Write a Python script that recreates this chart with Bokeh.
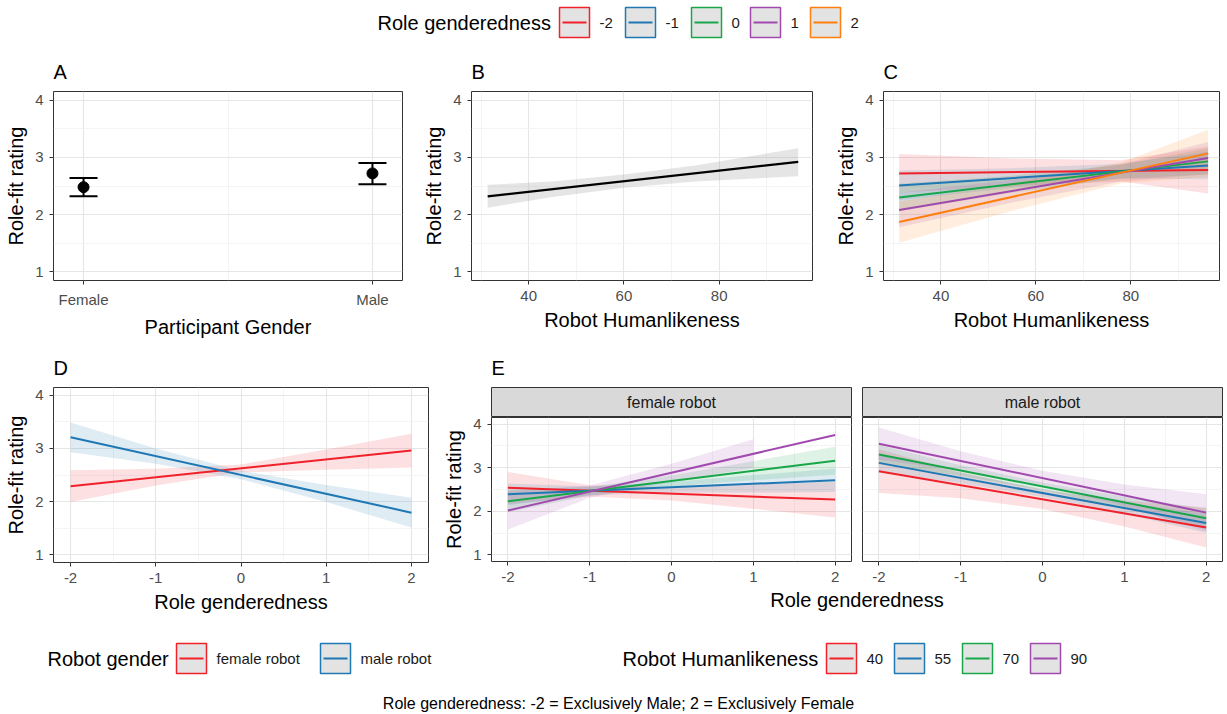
from bokeh.plotting import figure
from bokeh.layouts import column, row
from bokeh.models import Range1d, FixedTicker, ColumnDataSource, Whisker, TeeHead, Label
from bokeh.embed import file_html
from bokeh.resources import INLINE
from bokeh.core.properties import value

FONT = "Liberation Sans"

# ---------------- data ----------------
# Panel A
participant_gender = ["Female", "Male"]
pg_mean = [2.48, 2.72]
pg_lower = [2.32, 2.53]
pg_upper = [2.64, 2.90]

# Panel B
b_line_x = [31.4, 96.6]
b_line_y = [2.32, 2.92]
b_ci_x = [31.4, 45, 60, 75, 96.6]
b_ci_lower = [2.12, 2.31, 2.47, 2.58, 2.67]
b_ci_upper = [2.52, 2.58, 2.70, 2.86, 3.16]

# Panel C
role_levels = ["-2", "-1", "0", "1", "2"]
c_line_x = [31.2, 96.3]
c_line_start = [2.72, 2.51, 2.30, 2.08, 1.87]
c_line_end = [2.78, 2.86, 2.93, 2.99, 3.07]
c_ci_x = [31.2, 55, 78, 96.3]
c_ci_lower = [[2.38, 2.50, 2.58, 2.37], [2.25, 2.47, 2.63, 2.62], [2.06, 2.38, 2.63, 2.70],
              [1.78, 2.21, 2.58, 2.71], [1.51, 2.07, 2.55, 2.66]]
c_ci_upper = [[3.06, 2.98, 2.95, 3.19], [2.77, 2.81, 2.89, 3.10], [2.54, 2.68, 2.87, 3.16],
              [2.38, 2.61, 2.88, 3.27], [2.23, 2.55, 2.91, 3.48]]

# Panel D
robot_gender = ["female robot", "male robot"]
gend_x = [-2, -1, 0, 1, 2]
gend_labels = ["-2", "-1", "0", "1", "2"]
d_line_start = [2.29, 3.21]
d_line_end = [2.96, 1.79]
d_ci_lower = [[1.99, 2.30, 2.55, 2.60, 2.64], [2.93, 2.71, 2.42, 1.99, 1.51]]
d_ci_upper = [[2.59, 2.62, 2.70, 2.98, 3.28], [3.49, 3.00, 2.58, 2.31, 2.07]]

# Panel E
humanlikeness_levels = ["40", "55", "70", "90"]
e_f_start = [2.54, 2.39, 2.23, 2.02]
e_f_end = [2.27, 2.71, 3.16, 3.75]
e_f_lower = [[2.17, 2.34, 2.25, 2.06, 1.86], [2.14, 2.37, 2.43, 2.43, 2.44],
             [1.98, 2.36, 2.57, 2.71, 2.84], [1.58, 2.31, 2.68, 2.99]]
e_f_upper = [[2.90, 2.60, 2.56, 2.62, 2.68], [2.64, 2.57, 2.67, 2.83, 2.98],
             [2.48, 2.56, 2.82, 3.15, 3.48], [2.46, 2.59, 3.09, 3.65]]
e_m_start = [2.92, 3.11, 3.30, 3.55]
e_m_end = [1.63, 1.73, 1.84, 1.97]
e_m_lower = [[2.42, 2.30, 2.055, 1.65, 1.17], [2.89, 2.645, 2.33, 1.945, 1.51],
             [3.08, 2.815, 2.48, 2.075, 1.62], [3.18, 2.935, 2.59, 2.115, 1.55]]
e_m_upper = [[3.42, 2.90, 2.495, 2.25, 2.09], [3.33, 2.885, 2.51, 2.205, 1.95],
             [3.52, 3.055, 2.66, 2.335, 2.06], [3.92, 3.375, 2.93, 2.615, 2.39]]

y_ticks = [1, 2, 3, 4]
y_minor = [1.5, 2.5, 3.5]
hl_ticks = [40, 60, 80]
hl_minor = [30, 50, 70, 90]
gend_minor = [-1.5, -0.5, 0.5, 1.5]

ROLE_COLORS = ["#F0212A", "#1F78B4", "#18A64A", "#A04AAE", "#FF7F0E"]
HL_COLORS = ["#F0212A", "#1F78B4", "#18A64A", "#A04AAE"]
RG_COLORS = ["#F0212A", "#1F78B4"]
RIB_ALPHA = 0.14
TITLE_SIZE = "20px"
TICK_SIZE = "15px"


# ---------------- helpers ----------------
def style_axis(ax, label):
    if label:
        ax.axis_label = label
    ax.axis_label_text_font = FONT
    ax.axis_label_text_font_size = TITLE_SIZE
    ax.axis_label_text_font_style = "normal"
    ax.axis_label_text_color = "black"
    ax.axis_label_standoff = 5
    ax.major_label_text_font = FONT
    ax.major_label_text_font_size = TICK_SIZE
    ax.major_label_text_color = "#4D4D4D"
    ax.major_label_standoff = 6
    ax.axis_line_color = None
    ax.major_tick_line_color = "#333333"
    ax.major_tick_out = 4
    ax.major_tick_in = 0
    ax.minor_tick_line_color = None


def style_title(p):
    p.title.text_font = FONT
    p.title.text_font_size = "20px"
    p.title.text_font_style = "normal"
    p.title.text_color = "black"
    p.title.align = "left"
    p.title.offset = 0
    p.title.standoff = 17


def make_panel(width, height, xr, yr, borders, xticks, xminor, xlabel=None, ylabel=None,
               show_x=True, show_y=True, title=None, xtick_labels=None):
    bl, br, bt, bb = borders
    p = figure(width=width, height=height, x_range=Range1d(*xr), y_range=Range1d(*yr),
               output_backend="svg", toolbar_location=None, title=title,
               x_axis_location="below" if show_x else None,
               y_axis_location="left" if show_y else None,
               min_border_left=bl, min_border_right=br, min_border_top=bt, min_border_bottom=bb)
    p.outline_line_color = "#333333"
    p.outline_line_width = 1
    p.background_fill_color = "white"
    p.border_fill_color = "white"
    xt = FixedTicker(ticks=xticks, minor_ticks=xminor)
    yt = FixedTicker(ticks=y_ticks, minor_ticks=y_minor)
    p.xgrid.ticker = xt
    p.ygrid.ticker = yt
    p.grid.grid_line_color = "#E6E6E6"
    p.grid.grid_line_width = 1.1
    p.grid.minor_grid_line_color = "#F1F1F1"
    p.grid.minor_grid_line_width = 0.8
    if show_x:
        p.xaxis.ticker = xt
        style_axis(p.xaxis[0], xlabel)
        if xtick_labels:
            p.xaxis.major_label_overrides = {t: lab for t, lab in zip(xticks, xtick_labels)}
    if show_y:
        p.yaxis.ticker = yt
        style_axis(p.yaxis[0], ylabel)
    if title:
        style_title(p)
    return p


def blank_fig(width, height, title=None):
    p = figure(width=width, height=height, x_range=Range1d(0, width), y_range=Range1d(height, 0),
               output_backend="svg", toolbar_location=None, title=title,
               x_axis_location=None, y_axis_location=None,
               min_border_left=0, min_border_right=0, min_border_top=0, min_border_bottom=0)
    p.grid.visible = False
    p.outline_line_color = None
    p.background_fill_color = "white"
    p.border_fill_color = "white"
    return p


def draw_legend(p, title, title_x, key_lefts, yc, colors, labels, size=30):
    n = len(labels)
    p.text(x=[title_x], y=[yc], text=[title], text_font=value(FONT), text_font_size=TITLE_SIZE,
           text_baseline="middle", text_align="left", text_color="black")
    p.rect(x=[k + size / 2 for k in key_lefts], y=[yc] * n, width=size, height=size,
           fill_color="#E3E3E3", line_color=colors, line_width=1.5)
    p.segment(x0=[k + 3 for k in key_lefts], y0=[yc] * n, x1=[k + size - 3 for k in key_lefts],
              y1=[yc] * n, line_color=colors, line_width=2)
    p.text(x=[k + size + 10 for k in key_lefts], y=[yc] * n, text=labels, text_font=value(FONT),
           text_font_size=TICK_SIZE, text_baseline="middle", text_align="left", text_color="#1A1A1A")


# ---------------- top legend ----------------
top = blank_fig(1226, 50)
draw_legend(top, "Role genderedness", 377, [559, 625, 691, 750, 810], 22, ROLE_COLORS, role_levels)

# ---------------- Panel A ----------------
gx = [i + 1 for i in range(len(participant_gender))]
pA = make_panel(420, 290, (0.896, 2.104), (0.85, 4.15), (53, 18, 41, 54), gx, [1.5],
                xlabel="Participant Gender", ylabel="Role-fit rating", title="A",
                xtick_labels=participant_gender)
srcA = ColumnDataSource(dict(x=gx, m=pg_mean, lo=pg_lower, up=pg_upper))
pA.add_layout(Whisker(source=srcA, base="x", lower="lo", upper="up", line_color="black", line_width=2,
                      upper_head=TeeHead(size=28, line_width=2, line_color="black"),
                      lower_head=TeeHead(size=28, line_width=2, line_color="black")))
pA.scatter("x", "m", source=srcA, size=11, color="black")

# ---------------- Panel B ----------------
pB = make_panel(412, 290, (28.0, 99.6), (0.85, 4.15), (43, 20, 41, 54), hl_ticks, hl_minor,
                xlabel="Robot Humanlikeness", ylabel="Role-fit rating", title="B")
pB.varea(x=b_ci_x, y1=b_ci_lower, y2=b_ci_upper, fill_color="#999999", fill_alpha=0.25)
pB.line(b_line_x, b_line_y, line_color="black", line_width=2.2)

# ---------------- Panel C ----------------
pC = make_panel(394, 290, (27.9, 98.7), (0.85, 4.15), (42, 7, 41, 54), hl_ticks, hl_minor,
                xlabel="Robot Humanlikeness", ylabel="Role-fit rating", title="C")
for i, lev in enumerate(role_levels):
    pC.varea(x=c_ci_x, y1=c_ci_lower[i], y2=c_ci_upper[i], fill_color=ROLE_COLORS[i], fill_alpha=RIB_ALPHA)
for i, lev in enumerate(role_levels):
    pC.line(c_line_x, [c_line_start[i], c_line_end[i]], line_color=ROLE_COLORS[i], line_width=2)

# ---------------- Panel D ----------------
pD = make_panel(440, 275, (-2.2, 2.2), (0.85, 4.15), (53, 12, 47, 53), gend_x, gend_minor,
                xlabel="Role genderedness", ylabel="Role-fit rating", title="D", xtick_labels=gend_labels)
for i, g in enumerate(robot_gender):
    pD.varea(x=gend_x, y1=d_ci_lower[i], y2=d_ci_upper[i], fill_color=RG_COLORS[i], fill_alpha=RIB_ALPHA)
for i, g in enumerate(robot_gender):
    pD.line([gend_x[0], gend_x[-1]], [d_line_start[i], d_line_end[i]], line_color=RG_COLORS[i], line_width=2)


# ---------------- Panel E ----------------
def strip(width, bl, br, text, title=None):
    s = figure(width=width, height=77, x_range=Range1d(0, 1), y_range=Range1d(0, 1),
               output_backend="svg", toolbar_location=None, title=title,
               x_axis_location=None, y_axis_location=None,
               min_border_left=bl, min_border_right=br, min_border_top=47, min_border_bottom=0)
    s.grid.visible = False
    s.background_fill_color = "#D9D9D9"
    s.border_fill_color = "white"
    s.outline_line_color = "#333333"
    s.add_layout(Label(x=0.5, y=0.5, text=text, text_align="center", text_baseline="middle",
                       text_font=FONT, text_font_size="16px", text_color="#1A1A1A"))
    if title:
        style_title(s)
    return s


OVERLAP = 7
sF = strip(416, 51, 5, robot_gender[0], title="E")
sM = strip(370, 6, 4, robot_gender[1])

pEF = make_panel(416, 170 + OVERLAP, (-2.2, 2.2), (0.85, 4.15), (51, 5, OVERLAP, 26), gend_x, gend_minor,
                 ylabel="Role-fit rating", xtick_labels=gend_labels)
pEM = make_panel(370, 170 + OVERLAP, (-2.2, 2.2), (0.85, 4.15), (6, 4, OVERLAP, 26), gend_x, gend_minor,
                 show_y=False, xtick_labels=gend_labels)
for p in (pEF, pEM):
    p.border_fill_alpha = 0.0

for p, lower, upper in ((pEF, e_f_lower, e_f_upper), (pEM, e_m_lower, e_m_upper)):
    for i, lev in enumerate(humanlikeness_levels):
        p.varea(x=gend_x[:len(lower[i])], y1=lower[i], y2=upper[i], fill_color=HL_COLORS[i], fill_alpha=RIB_ALPHA)
for p, st, en in ((pEF, e_f_start, e_f_end), (pEM, e_m_start, e_m_end)):
    for i, lev in enumerate(humanlikeness_levels):
        p.line([gend_x[0], gend_x[-1]], [st[i], en[i]], line_color=HL_COLORS[i], line_width=2)

eTitle = blank_fig(786, 28)
eTitle.text(x=[(51 + 416 + 6 + 360) / 2], y=[12], text=["Role genderedness"], text_font=value(FONT),
            text_font_size=TITLE_SIZE, text_align="center", text_baseline="middle", text_color="black")

# ---------------- bottom legends + note ----------------
bottom = blank_fig(1226, 98)
draw_legend(bottom, "Robot gender", 47, [176, 320], 43, RG_COLORS, robot_gender)
draw_legend(bottom, "Robot Humanlikeness", 622, [826, 894, 962, 1030], 43, HL_COLORS, humanlikeness_levels)
bottom.text(x=[618], y=[88], text=["Role genderedness: -2 = Exclusively Male; 2 = Exclusively Female"],
            text_font=value(FONT), text_font_size="16px", text_align="center", text_baseline="middle",
            text_color="black")

layout = column(
    top,
    row(pA, pB, pC),
    row(pD, column(row(sF, sM), row(pEF, pEM, margin=(-OVERLAP, 0, 0, 0)), eTitle)),
    bottom,
)

open("out.html", "w").write(file_html(layout, INLINE))
